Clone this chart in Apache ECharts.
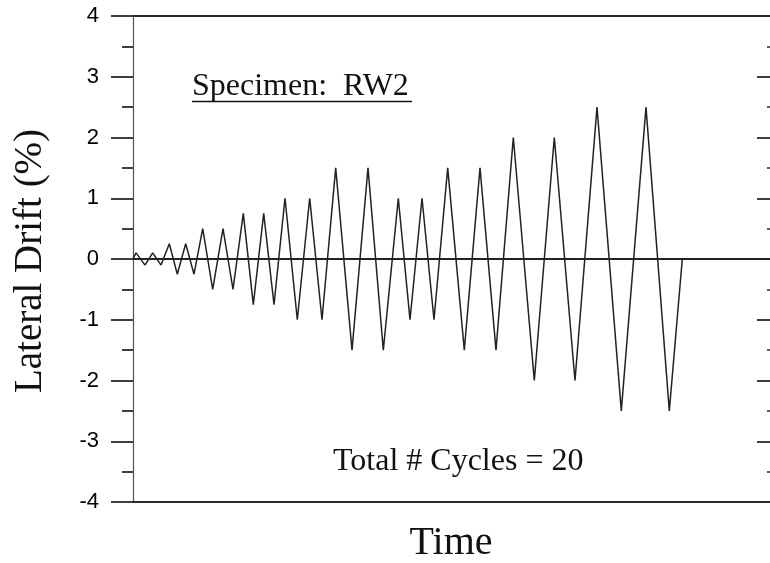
<!DOCTYPE html>
<html>
<head>
<meta charset="utf-8">
<script src="https://cdn.jsdelivr.net/npm/echarts@6/dist/echarts.min.js"></script>
<style>html,body{margin:0;padding:0;background:#fff}#c{width:770px;height:563px}</style>
</head>
<body>
<div id="c"></div>
<script>
// Time (arbitrary units) and lateral drift (%)
const timePts = [0,3,12,19.7,28,36.3,44.3,52.7,61,69.7,79.7,90,100,110.3,120.3,130.7,141,152,164.3,176.7,189,202.7,219,235,250.3,265.3,277,289,301,314.7,331.3,347,363,380.3,401.3,421.3,442,464,488.3,513,536.3,549.3];
const driftPct = [0,0.1,-0.1,0.1,-0.1,0.25,-0.25,0.25,-0.25,0.5,-0.5,0.5,-0.5,0.75,-0.75,0.75,-0.75,1,-1,1,-1,1.5,-1.5,1.5,-1.5,1,-1,1,-1,1.5,-1.5,1.5,-1.5,2,-2,2,-2,2.5,-2.5,2.5,-2.5,0];
const yTicks = [-4,-3,-2,-1,0,1,2,3,4];
const timeMax = 637;
const specimenText = 'Specimen:  RW2';
const cyclesText = 'Total # Cycles = 20';
const yTitle = 'Lateral Drift (%)';
const xTitle = 'Time';

const chart = echarts.init(document.getElementById('c'), null, {renderer: 'canvas'});
const serif = '"Liberation Serif","Times New Roman",serif';
const axisCol = '#2a2a2a';
chart.setOption({
  animation: false,
  backgroundColor: '#fff',
  grid: {left: 133, right: 0, top: 16, bottom: 61, show: false},
  xAxis: [
    {type: 'value', min: 0, max: timeMax, position: 'bottom',
     axisLine: {show: true, onZero: false, lineStyle: {color: axisCol, width: 1.8}},
     axisTick: {show: false}, axisLabel: {show: false}, splitLine: {show: false}},
    {type: 'value', min: 0, max: timeMax, position: 'top',
     axisLine: {show: true, onZero: false, lineStyle: {color: axisCol, width: 1.8}},
     axisTick: {show: false}, axisLabel: {show: false}, splitLine: {show: false}}
  ],
  yAxis: [
    {type: 'value', min: yTicks[0], max: yTicks[yTicks.length-1], interval: 1, position: 'left',
     axisLine: {show: true, onZero: false, lineStyle: {color: '#555', width: 1.2}},
     axisTick: {show: true, inside: false, length: 22, lineStyle: {color: axisCol, width: 1.8}},
     minorTick: {show: true, splitNumber: 2, length: 11, lineStyle: {color: axisCol, width: 1.8}},
     axisLabel: {show: true, margin: 34, color: '#000', fontSize: 22,
       fontFamily: '"Liberation Sans",Arial,sans-serif',
       formatter: v => yTicks.includes(v) ? String(v) : ''},
     splitLine: {show: false}},
    {type: 'value', min: yTicks[0], max: yTicks[yTicks.length-1], interval: 1, position: 'right',
     axisLine: {show: true, onZero: false, lineStyle: {color: 'rgba(0,0,0,0)', width: 1}},
     axisTick: {show: true, inside: true, length: 13, lineStyle: {color: axisCol, width: 1.8}},
     minorTick: {show: true, splitNumber: 2, length: 3, lineStyle: {color: axisCol, width: 1.5}},
     axisLabel: {show: false}, splitLine: {show: false}}
  ],
  series: [{
    type: 'line',
    xAxisIndex: 0, yAxisIndex: 0,
    data: timePts.map((t, i) => [t, driftPct[i]]),
    symbol: 'none',
    lineStyle: {color: '#222', width: 1.5},
    markLine: {
      silent: true, symbol: 'none', label: {show: false},
      lineStyle: {color: '#222', width: 1.8, type: 'solid'},
      data: [{yAxis: 0}]
    }
  }, {
    type: 'line', xAxisIndex: 1, yAxisIndex: 1, data: [], symbol: 'none'
  }],
  graphic: [
    {type: 'text', x: 31, y: 261, rotation: Math.PI/2,
     style: {text: yTitle, font: '39px ' + serif, fill: '#111', align: 'center', verticalAlign: 'middle'}},
    {type: 'text', x: 451, y: 543, style: {text: xTitle, font: '40px ' + serif, fill: '#111', align: 'center', verticalAlign: 'middle'}},
    {type: 'text', x: 192, y: 86.5, style: {text: specimenText, font: '32px ' + serif, fill: '#111', align: 'left', verticalAlign: 'middle'}},
    {type: 'line', shape: {x1: 192, y1: 101.5, x2: 412, y2: 101.5}, style: {stroke: '#111', lineWidth: 1.6}},
    {type: 'text', x: 333, y: 462, style: {text: cyclesText, font: '32px ' + serif, fill: '#111', align: 'left', verticalAlign: 'middle'}}
  ]
});
</script>
</body>
</html>
